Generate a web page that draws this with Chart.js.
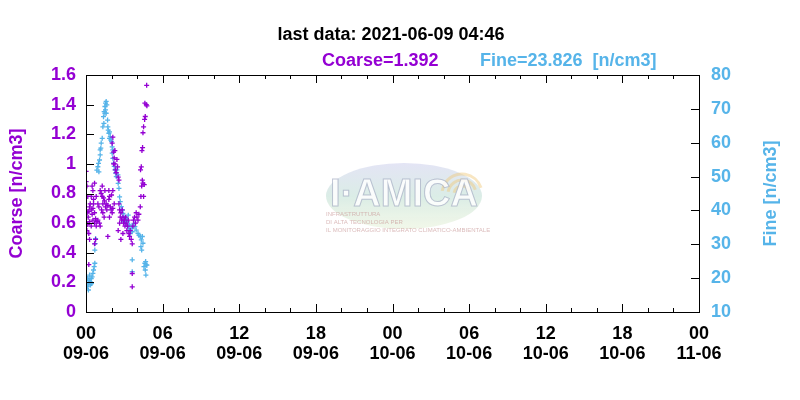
<!DOCTYPE html>
<html>
<head>
<meta charset="utf-8">
<script src="https://cdn.jsdelivr.net/npm/chart.js@4"></script>
<style>
  html, body { margin: 0; padding: 0; background: #fff; }
  #chart { display: block; }
</style>
</head>
<body>
<canvas id="chart" width="800" height="400"></canvas>
<script>
// hours since 09-06 00:00 and the measured concentrations
const coarseHours = [
  0.01, 0.01, 0.07, 0.14, 0.01, 0.09, 0.17, 0.22, 0.28, 0.33, 0.41, 0.48, 0.54, 0.59, 0.67, 0.75,
  0.01, 0.14, 0.28, 0.41, 0.54, 0.67, 0.80, 0.85, 0.07, 0.22, 0.48, 0.54, 0.67, 0.80, 0.93, 1.01,
  0.75, 0.67, 0.22, 0.41, 0.59, 0.93, 1.06, 1.11, 0.28,
  1.11, 1.19, 1.27, 1.32, 1.37, 1.45, 1.53, 1.58, 1.63, 1.71, 1.79, 1.84, 1.90, 1.97, 2.05, 2.10,
  1.22, 1.32, 1.42, 1.71, 1.84, 1.27, 1.48, 1.79, 2.00, 2.21, 2.10,
  2.05, 2.10, 2.16, 2.21, 2.26, 2.31, 2.37, 2.42, 2.47, 2.52, 2.58, 2.26, 2.16,
  2.58, 2.63, 2.68, 2.73, 2.79, 2.84, 2.89, 2.94, 3.00, 3.05, 3.10, 3.15, 3.20, 3.26, 3.31, 3.36,
  3.41, 3.46, 3.54, 3.62, 3.67, 3.72, 3.80, 3.88, 3.93, 3.99, 4.07, 4.14, 2.73, 2.89, 2.63, 2.52,
  3.62, 3.62,
  4.25, 4.30, 4.36, 4.41, 4.27, 4.33, 4.38, 4.43, 4.46, 4.51, 4.59, 4.64, 4.61, 4.75, 4.72, 4.46,
  4.56, 4.51, 4.77
];
const coarseValues = [
  0.95, 0.88, 0.85, 0.78, 0.69, 0.67, 0.64, 0.68, 0.71, 0.73, 0.69, 0.66, 0.70, 0.73, 0.67, 0.63,
  0.60, 0.59, 0.61, 0.58, 0.62, 0.60, 0.58, 0.61, 0.55, 0.53, 0.85, 0.82, 0.87, 0.78, 0.73, 0.71,
  0.49, 0.46, 0.32, 0.78, 0.76, 0.62, 0.60, 0.58, 0.49,
  0.82, 0.80, 0.78, 0.73, 0.77, 0.75, 0.71, 0.73, 0.69, 0.72, 0.76, 0.78, 0.71, 0.69, 0.67, 0.70,
  0.69, 0.67, 0.64, 0.51, 0.64, 0.85, 0.82, 0.82, 0.79, 0.73, 0.82,
  1.14, 1.18, 1.08, 1.04, 1.00, 0.96, 0.94, 1.03, 0.98, 0.91, 0.89, 1.09, 1.00,
  0.73, 0.69, 0.64, 0.67, 0.62, 0.69, 0.64, 0.60, 0.62, 0.58, 0.64, 0.60, 0.55, 0.58, 0.62, 0.53,
  0.51, 0.55, 0.49, 0.46, 0.58, 0.62, 0.64, 0.60, 0.67, 0.64, 0.62, 0.66, 0.49, 0.53, 0.60, 0.55,
  0.26, 0.17,
  0.71, 0.78, 0.85, 0.89, 0.96, 0.98, 1.09, 1.11, 1.21, 1.25, 1.30, 1.32, 1.41, 1.53, 1.40, 0.87,
  0.86, 0.78, 1.392
];

const fineHours = [
  0.02, 0.07, 0.10, 0.14, 0.19, 0.22, 0.28, 0.28, 0.33, 0.35, 0.41, 0.43, 0.48, 0.54, 0.59, 0.64,
  0.69, 0.69, 0.72, 0.75, 0.85, 0.93, 0.98, 1.01, 1.06, 1.11, 1.11, 1.16, 1.19, 1.27, 1.32, 1.37,
  1.40, 1.42, 1.48, 1.48, 1.53, 1.53, 1.58, 1.58, 1.63, 1.69, 1.71, 1.74, 1.79, 1.84, 1.84, 1.90,
  1.95, 2.00, 2.05, 2.05, 2.10, 2.10, 2.16, 2.21, 2.26, 2.31, 2.37, 2.42, 2.50, 2.52, 2.58, 2.63,
  2.68, 2.76, 2.84, 2.89, 2.92, 2.97, 3.05, 3.10, 3.15, 3.23, 3.31, 3.31, 3.36, 3.41, 3.46, 3.54,
  3.62, 3.62, 3.62, 3.67, 3.75, 3.83, 3.93, 4.07, 4.14, 4.25, 4.30, 4.33, 4.36, 4.41, 4.46, 4.54,
  4.61, 4.64, 4.67, 4.69, 4.72, 4.77
];
const fineValues = [
  20.4, 19.4, 17.5, 19.9, 16.5, 18.4, 19.4, 20.9, 18.9, 18.0, 19.9, 18.4, 20.4, 21.4, 22.4, 23.4,
  24.4, 28.3, 30.2, 31.7, 51.9, 52.9, 53.9, 51.4, 54.9, 56.4, 57.9, 58.4, 59.9, 61.3, 64.7, 67.7,
  65.7, 69.2, 70.7, 68.7, 71.7, 69.7, 72.2, 68.7, 71.2, 66.7, 64.7, 63.7, 62.8, 63.2, 61.3, 61.8,
  60.8, 60.3, 58.8, 56.9, 57.9, 55.4, 54.0, 53.0, 52.0, 51.0, 50.0, 52.0, 50.5, 48.0, 46.5, 44.0,
  42.6, 41.1, 40.1, 39.1, 36.7, 38.1, 37.2, 36.2, 37.6, 36.7, 35.2, 38.6, 34.2, 35.7, 33.2, 34.7,
  33.7, 25.4, 21.9, 35.2, 36.2, 35.2, 34.2, 33.2, 32.7, 32.3, 29.3, 31.3, 28.3, 32.3, 30.3, 23.4,
  24.4, 22.4, 24.9, 20.9, 23.9, 23.826
];

const lastTime = '2021-06-09 04:46';
const lastCoarse = '1.392';
const lastFine = '23.826';

const hourLabels = ['00', '06', '12', '18'];
const dayLabels = ['09-06', '10-06', '11-06'];

const PURPLE = '#9400d3';
const BLUE = '#56b4e9';
const FONT = '"Liberation Sans", Arial, sans-serif';

const coarsePoints = coarseHours.map((h, i) => ({ x: h, y: coarseValues[i] }));
const finePoints = fineHours.map((h, i) => ({ x: h, y: fineValues[i] }));

// gnuplot-like frame: box with inward ticks, title lines and faint logo
const framePlugin = {
  id: 'frame',
  beforeDatasetsDraw(chart) {
    const { ctx, chartArea: a } = chart;
    ctx.save();
    const cx = 404, cy = 196;
    const g = ctx.createLinearGradient(cx, cy - 35, cx, cy + 30);
    g.addColorStop(0, 'rgba(195,195,235,0.45)');
    g.addColorStop(0.55, 'rgba(175,215,200,0.45)');
    g.addColorStop(1, 'rgba(210,230,190,0.35)');
    ctx.fillStyle = g;
    ctx.beginPath();
    ctx.ellipse(cx, cy, 78, 33, 0, 0, Math.PI * 2);
    ctx.fill();
    // warm swirl on the right
    ctx.strokeStyle = 'rgba(240,200,120,0.45)';
    ctx.lineWidth = 3;
    for (let r = 8; r <= 20; r += 6) {
      ctx.beginPath();
      ctx.arc(cx + 58, cy - 2, r, Math.PI * 1.05, Math.PI * 1.9);
      ctx.stroke();
    }
    ctx.font = 'bold 38px ' + FONT;
    ctx.textAlign = 'center';
    ctx.textBaseline = 'alphabetic';
    ctx.fillStyle = 'rgba(255,255,255,0.85)';
    ctx.strokeStyle = 'rgba(150,160,185,0.6)';
    ctx.lineWidth = 1;
    ctx.fillText('I\u00b7AMICA', cx, cy + 10);
    ctx.strokeText('I\u00b7AMICA', cx, cy + 10);
    ctx.font = '6px ' + FONT;
    ctx.textAlign = 'left';
    ctx.fillStyle = 'rgba(200,150,150,0.65)';
    ctx.fillText('INFRASTRUTTURA', cx - 78, cy + 20);
    ctx.fillText('DI ALTA TECNOLOGIA PER', cx - 78, cy + 28);
    ctx.fillText('IL MONITORAGGIO INTEGRATO CLIMATICO-AMBIENTALE', cx - 78, cy + 36);
    ctx.restore();
  },
  afterDraw(chart) {
    const { ctx, chartArea: a, scales } = chart;
    ctx.save();
    ctx.strokeStyle = '#000';
    ctx.lineWidth = 1;
    ctx.strokeRect(Math.round(a.left) + 0.5, Math.round(a.top) + 0.5,
      Math.round(a.right - a.left), Math.round(a.bottom - a.top));
    ctx.beginPath();
    for (let h = 0; h <= 48; h += 2) {
      const px = Math.round(scales.x.getPixelForValue(h)) + 0.5;
      const len = h % 6 === 0 ? 8 : 4;
      ctx.moveTo(px, a.bottom); ctx.lineTo(px, a.bottom - len);
      ctx.moveTo(px, a.top); ctx.lineTo(px, a.top + len);
    }
    for (let v = 0; v <= 1.6001; v += 0.2) {
      const py = Math.round(scales.y.getPixelForValue(v)) + 0.5;
      ctx.moveTo(a.left, py); ctx.lineTo(a.left + 8, py);
    }
    for (let v = 10; v <= 80; v += 10) {
      const py = Math.round(scales.y1.getPixelForValue(v)) + 0.5;
      ctx.moveTo(a.right, py); ctx.lineTo(a.right - 8, py);
    }
    ctx.stroke();

    ctx.font = 'bold 18px ' + FONT;
    ctx.textBaseline = 'alphabetic';
    ctx.textAlign = 'center';
    ctx.fillStyle = '#000';
    ctx.fillText('last data: ' + lastTime, 391, 40);
    ctx.textAlign = 'left';
    ctx.fillStyle = PURPLE;
    ctx.fillText('Coarse=' + lastCoarse, 322, 66);
    ctx.fillStyle = BLUE;
    ctx.fillText('Fine=' + lastFine + '  [n/cm3]', 480, 66);

    // right axis title reads bottom-to-top like the left one
    ctx.translate(771, (a.top + a.bottom) / 2);
    ctx.rotate(-Math.PI / 2);
    ctx.textAlign = 'center';
    ctx.textBaseline = 'middle';
    ctx.fillStyle = BLUE;
    ctx.fillText('Fine [n/cm3]', 0, 0);
    ctx.restore();
  }
};

new Chart(document.getElementById('chart'), {
  type: 'scatter',
  data: {
    datasets: [
      {
        label: 'Coarse',
        data: coarsePoints,
        yAxisID: 'y',
        pointStyle: 'cross',
        pointRadius: 2.5,
        borderWidth: 1.3,
        borderColor: PURPLE,
        backgroundColor: PURPLE
      },
      {
        label: 'Fine',
        data: finePoints,
        yAxisID: 'y1',
        pointStyle: 'cross',
        pointRadius: 2.5,
        borderWidth: 1.3,
        borderColor: BLUE,
        backgroundColor: BLUE
      }
    ]
  },
  options: {
    responsive: false,
    animation: false,
    layout: { padding: { top: 75, left: 0, right: 0, bottom: 0 } },
    plugins: {
      legend: { display: false },
      tooltip: { enabled: false }
    },
    scales: {
      x: {
        type: 'linear',
        min: 0,
        max: 48,
        grid: { display: false, drawTicks: false },
        border: { display: false },
        ticks: {
          stepSize: 6,
          autoSkip: false,
          maxRotation: 0,
          padding: 12,
          color: '#000',
          font: { family: FONT, size: 18, weight: 'bold', lineHeight: 1.1 },
          callback: (v) => [hourLabels[(v / 6) % 4], dayLabels[Math.floor(v / 24)]]
        },
        afterFit: (s) => { s.height = 88; }
      },
      y: {
        position: 'left',
        min: 0,
        max: 1.6,
        grid: { display: false, drawTicks: false },
        border: { display: false },
        ticks: {
          stepSize: 0.2,
          padding: 10,
          color: PURPLE,
          font: { family: FONT, size: 18, weight: 'bold' },
          callback: (v) => String(Number(v.toFixed(1)))
        },
        title: {
          display: true,
          text: 'Coarse [n/cm3]',
          color: PURPLE,
          padding: { top: 6, bottom: 4 },
          font: { family: FONT, size: 18, weight: 'bold' }
        },
        afterFit: (s) => { s.width = 86; }
      },
      y1: {
        position: 'right',
        min: 10,
        max: 80,
        grid: { display: false, drawTicks: false },
        border: { display: false },
        ticks: {
          stepSize: 10,
          padding: 12,
          color: BLUE,
          font: { family: FONT, size: 18, weight: 'bold' }
        },
        afterFit: (s) => { s.width = 101; }
      }
    }
  },
  plugins: [framePlugin]
});
</script>
</body>
</html>
